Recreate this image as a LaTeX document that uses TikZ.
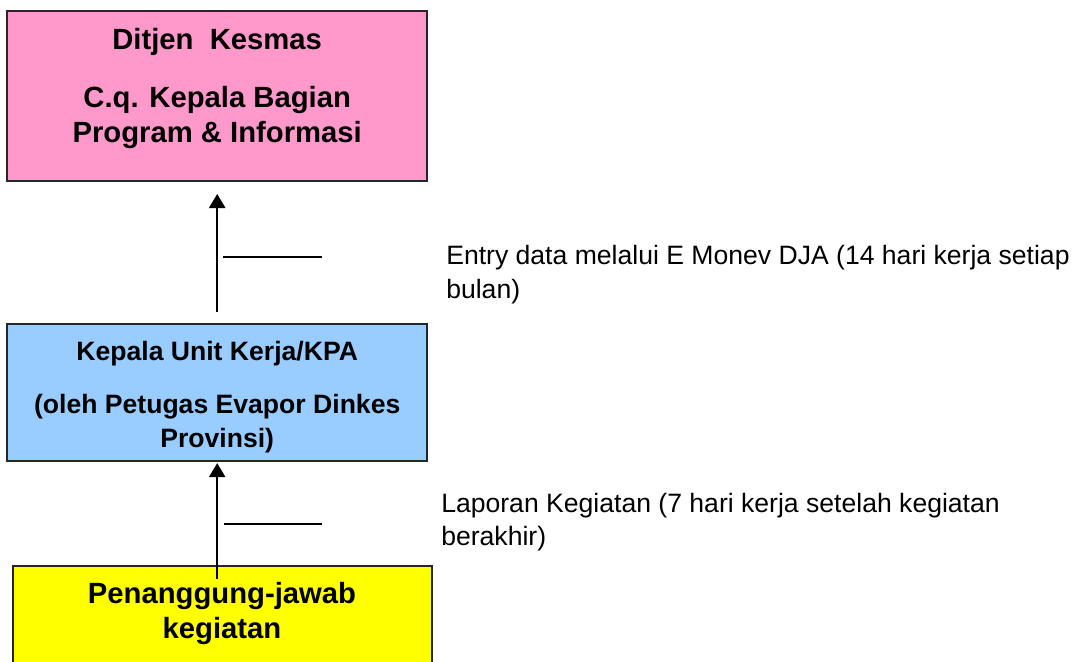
\documentclass[tikz,border=0pt]{standalone}
\usepackage{fontspec}
\setmainfont{Liberation Sans}
\usepackage{xcolor}
\usetikzlibrary{positioning,calc,arrows.meta}
\definecolor{ditjenpink}{HTML}{FF99CC}
\definecolor{kpablue}{HTML}{99CCFF}
\definecolor{pjyellow}{HTML}{FFFF00}

\begin{document}
\begin{tikzpicture}[x=0.025cm,y=-0.025cm,
    box/.style={draw=black!85, line width=1.4pt, inner sep=0pt},
    bigtxt/.style={inner sep=0pt, anchor=base, font=\bfseries\fontsize{20.8}{25}\selectfont},
    midtxt/.style={inner sep=0pt, anchor=base, font=\bfseries\fontsize{18.9}{24}\selectfont},
    note/.style={inner sep=0pt, anchor=base west, font=\fontsize{18.9}{23.5}\selectfont},
    arr/.style={line width=1.4pt, -{Triangle[width=11.5pt,length=10pt]}}]
    \clip (0,0) rectangle (1083,662);
    \useasboundingbox (0,0) rectangle (1083,662);

    % Ditjen box
    \node [box, fill=ditjenpink, minimum width=10.49cm, minimum height=4.25cm] (ditjen) at (217.2,95.7) {};
    \node [bigtxt] (ditjenA) at (217.2,49.5) {Ditjen\ \ Kesmas};
    \node [bigtxt] (ditjenB) at (217.2,107.5) {C.q. Kepala Bagian};
    \node [bigtxt] (ditjenC) at (217.2,142.5) {Program \& Informasi};

    % KPA box
    \node [box, fill=kpablue, minimum width=10.49cm, minimum height=3.42cm] (kpa) at (217.2,392.3) {};
    \node [midtxt] (kpaA) at (217.2,360) {Kepala Unit Kerja/KPA};
    \node [midtxt] (kpaB) at (217.2,413) {(oleh Petugas Evapor Dinkes};
    \node [midtxt] (kpaC) at (217.2,447) {Provinsi)};

    % Penanggung-jawab box
    \node [box, fill=pjyellow, minimum width=10.48cm, minimum height=3cm] (pj) at (222.3,625.7) {};
    \node [bigtxt] (pjA) at (222,603) {Penanggung-jawab};
    \node [bigtxt] (pjB) at (222,638) {kegiatan};

    % arrows
    \draw [arr, shorten <=8pt, shorten >=8.7pt] (kpa.north) -- (ditjen.south);
    \draw [arr, shorten <=-10.2pt, shorten >=1pt] (kpa.south |- pj.north) -- (kpa.south);

    % short lines
    \draw [line width=1pt] (223,257) -- (322,257);
    \draw [line width=1pt] (224,524) -- (322,524);

    % notes
    \node [note] (entry) at (446,265) {Entry data melalui E Monev DJA (14 hari kerja setiap};
    \node [note] (entryB) at (446,298) {bulan)};
    \node [note] (lapor) at (441,512) {Laporan Kegiatan (7 hari kerja setelah kegiatan};
    \node [note] (laporB) at (441,545) {berakhir)};
\end{tikzpicture}
\end{document}
